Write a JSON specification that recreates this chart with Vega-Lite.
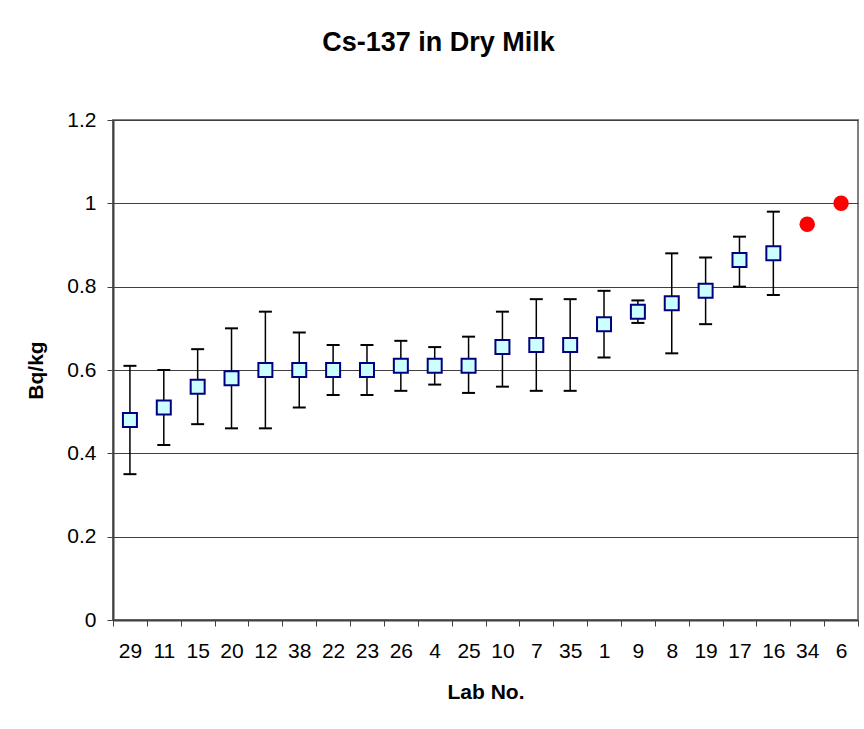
{
  "$schema": "https://vega.github.io/schema/vega-lite/v6.json",
  "autosize": "none",
  "width": 745,
  "height": 500,
  "padding": {"left": 113, "top": 120, "right": 6, "bottom": 109},
  "background": "white",
  "title": {
    "text": "Cs-137 in Dry Milk",
    "font": "Liberation Sans",
    "fontSize": 27,
    "fontWeight": "bold",
    "color": "black",
    "anchor": "middle",
    "frame": "group",
    "dx": -47,
    "baseline": "alphabetic",
    "offset": 31
  },
  "config": {
    "font": "Liberation Sans",
    "view": {"stroke": "#808080", "strokeWidth": 2}
  },
  "data": {
    "values": [
      {"lab": "29", "value": 0.48, "low": 0.35, "high": 0.61, "kind": "lab"},
      {"lab": "11", "value": 0.51, "low": 0.42, "high": 0.60, "kind": "lab"},
      {"lab": "15", "value": 0.56, "low": 0.47, "high": 0.65, "kind": "lab"},
      {"lab": "20", "value": 0.58, "low": 0.46, "high": 0.70, "kind": "lab"},
      {"lab": "12", "value": 0.60, "low": 0.46, "high": 0.74, "kind": "lab"},
      {"lab": "38", "value": 0.60, "low": 0.51, "high": 0.69, "kind": "lab"},
      {"lab": "22", "value": 0.60, "low": 0.54, "high": 0.66, "kind": "lab"},
      {"lab": "23", "value": 0.60, "low": 0.54, "high": 0.66, "kind": "lab"},
      {"lab": "26", "value": 0.61, "low": 0.55, "high": 0.67, "kind": "lab"},
      {"lab": "4", "value": 0.61, "low": 0.565, "high": 0.655, "kind": "lab"},
      {"lab": "25", "value": 0.61, "low": 0.545, "high": 0.68, "kind": "lab"},
      {"lab": "10", "value": 0.655, "low": 0.56, "high": 0.74, "kind": "lab"},
      {"lab": "7", "value": 0.66, "low": 0.55, "high": 0.77, "kind": "lab"},
      {"lab": "35", "value": 0.66, "low": 0.55, "high": 0.77, "kind": "lab"},
      {"lab": "1", "value": 0.71, "low": 0.63, "high": 0.79, "kind": "lab"},
      {"lab": "9", "value": 0.74, "low": 0.713, "high": 0.767, "kind": "lab"},
      {"lab": "8", "value": 0.76, "low": 0.64, "high": 0.88, "kind": "lab"},
      {"lab": "19", "value": 0.79, "low": 0.71, "high": 0.87, "kind": "lab"},
      {"lab": "17", "value": 0.864, "low": 0.80, "high": 0.92, "kind": "lab"},
      {"lab": "16", "value": 0.88, "low": 0.78, "high": 0.98, "kind": "lab"},
      {"lab": "34", "value": 0.95, "kind": "outlier"},
      {"lab": "6", "value": 1.0, "kind": "outlier"}
    ]
  },
  "encoding": {
    "x": {
      "field": "lab",
      "type": "nominal",
      "sort": null,
      "scale": {"paddingInner": 0, "paddingOuter": 0},
      "axis": {
        "title": "Lab No.",
        "titleFontSize": 21,
        "titleFontWeight": "bold",
        "titleColor": "black",
        "titlePadding": 20,
        "labelAngle": 0,
        "labelFontSize": 21,
        "labelColor": "black",
        "labelPadding": 14,
        "tickBand": "extent",
        "tickSize": 6,
        "tickColor": "#404040",
        "domainColor": "#404040",
        "domainWidth": 2,
        "grid": false
      }
    }
  },
  "layer": [
    {
      "transform": [{"filter": "datum.kind === 'lab'"}],
      "mark": {"type": "rule", "color": "black", "strokeWidth": 1.5},
      "encoding": {
        "y": {
          "field": "low",
          "type": "quantitative",
          "scale": {"domain": [0, 1.2], "nice": false},
          "axis": {
            "title": "Bq/kg",
            "titleFontSize": 21,
            "titleFontWeight": "bold",
            "titleColor": "black",
            "titlePadding": 20,
            "values": [0, 0.2, 0.4, 0.6, 0.8, 1, 1.2],
            "labelExpr": "datum.value == 0 ? '0' : format(datum.value, '.1~f')",
            "labelFontSize": 21,
            "labelColor": "black",
            "labelPadding": 11,
            "tickSize": 6,
            "tickColor": "#404040",
            "domainColor": "#404040",
            "domainWidth": 2,
            "grid": true,
            "gridColor": "#404040",
            "gridWidth": 1
          }
        },
        "y2": {"field": "high"}
      }
    },
    {
      "transform": [{"filter": "datum.kind === 'lab'"}],
      "mark": {"type": "tick", "color": "black", "size": 13, "thickness": 2, "opacity": 1},
      "encoding": {"y": {"field": "low", "type": "quantitative"}}
    },
    {
      "transform": [{"filter": "datum.kind === 'lab'"}],
      "mark": {"type": "tick", "color": "black", "size": 13, "thickness": 2, "opacity": 1},
      "encoding": {"y": {"field": "high", "type": "quantitative"}}
    },
    {
      "transform": [{"filter": "datum.kind === 'lab'"}],
      "mark": {"type": "point", "shape": "square", "size": 196, "filled": true, "fill": "#CCFFFF", "stroke": "#000080", "strokeWidth": 2, "opacity": 1},
      "encoding": {"y": {"field": "value", "type": "quantitative"}}
    },
    {
      "transform": [{"filter": "datum.kind === 'outlier'"}],
      "mark": {"type": "circle", "size": 240, "color": "#FF0000", "opacity": 1},
      "encoding": {"y": {"field": "value", "type": "quantitative"}}
    }
  ],
  "resolve": {"scale": {"y": "shared"}}
}
